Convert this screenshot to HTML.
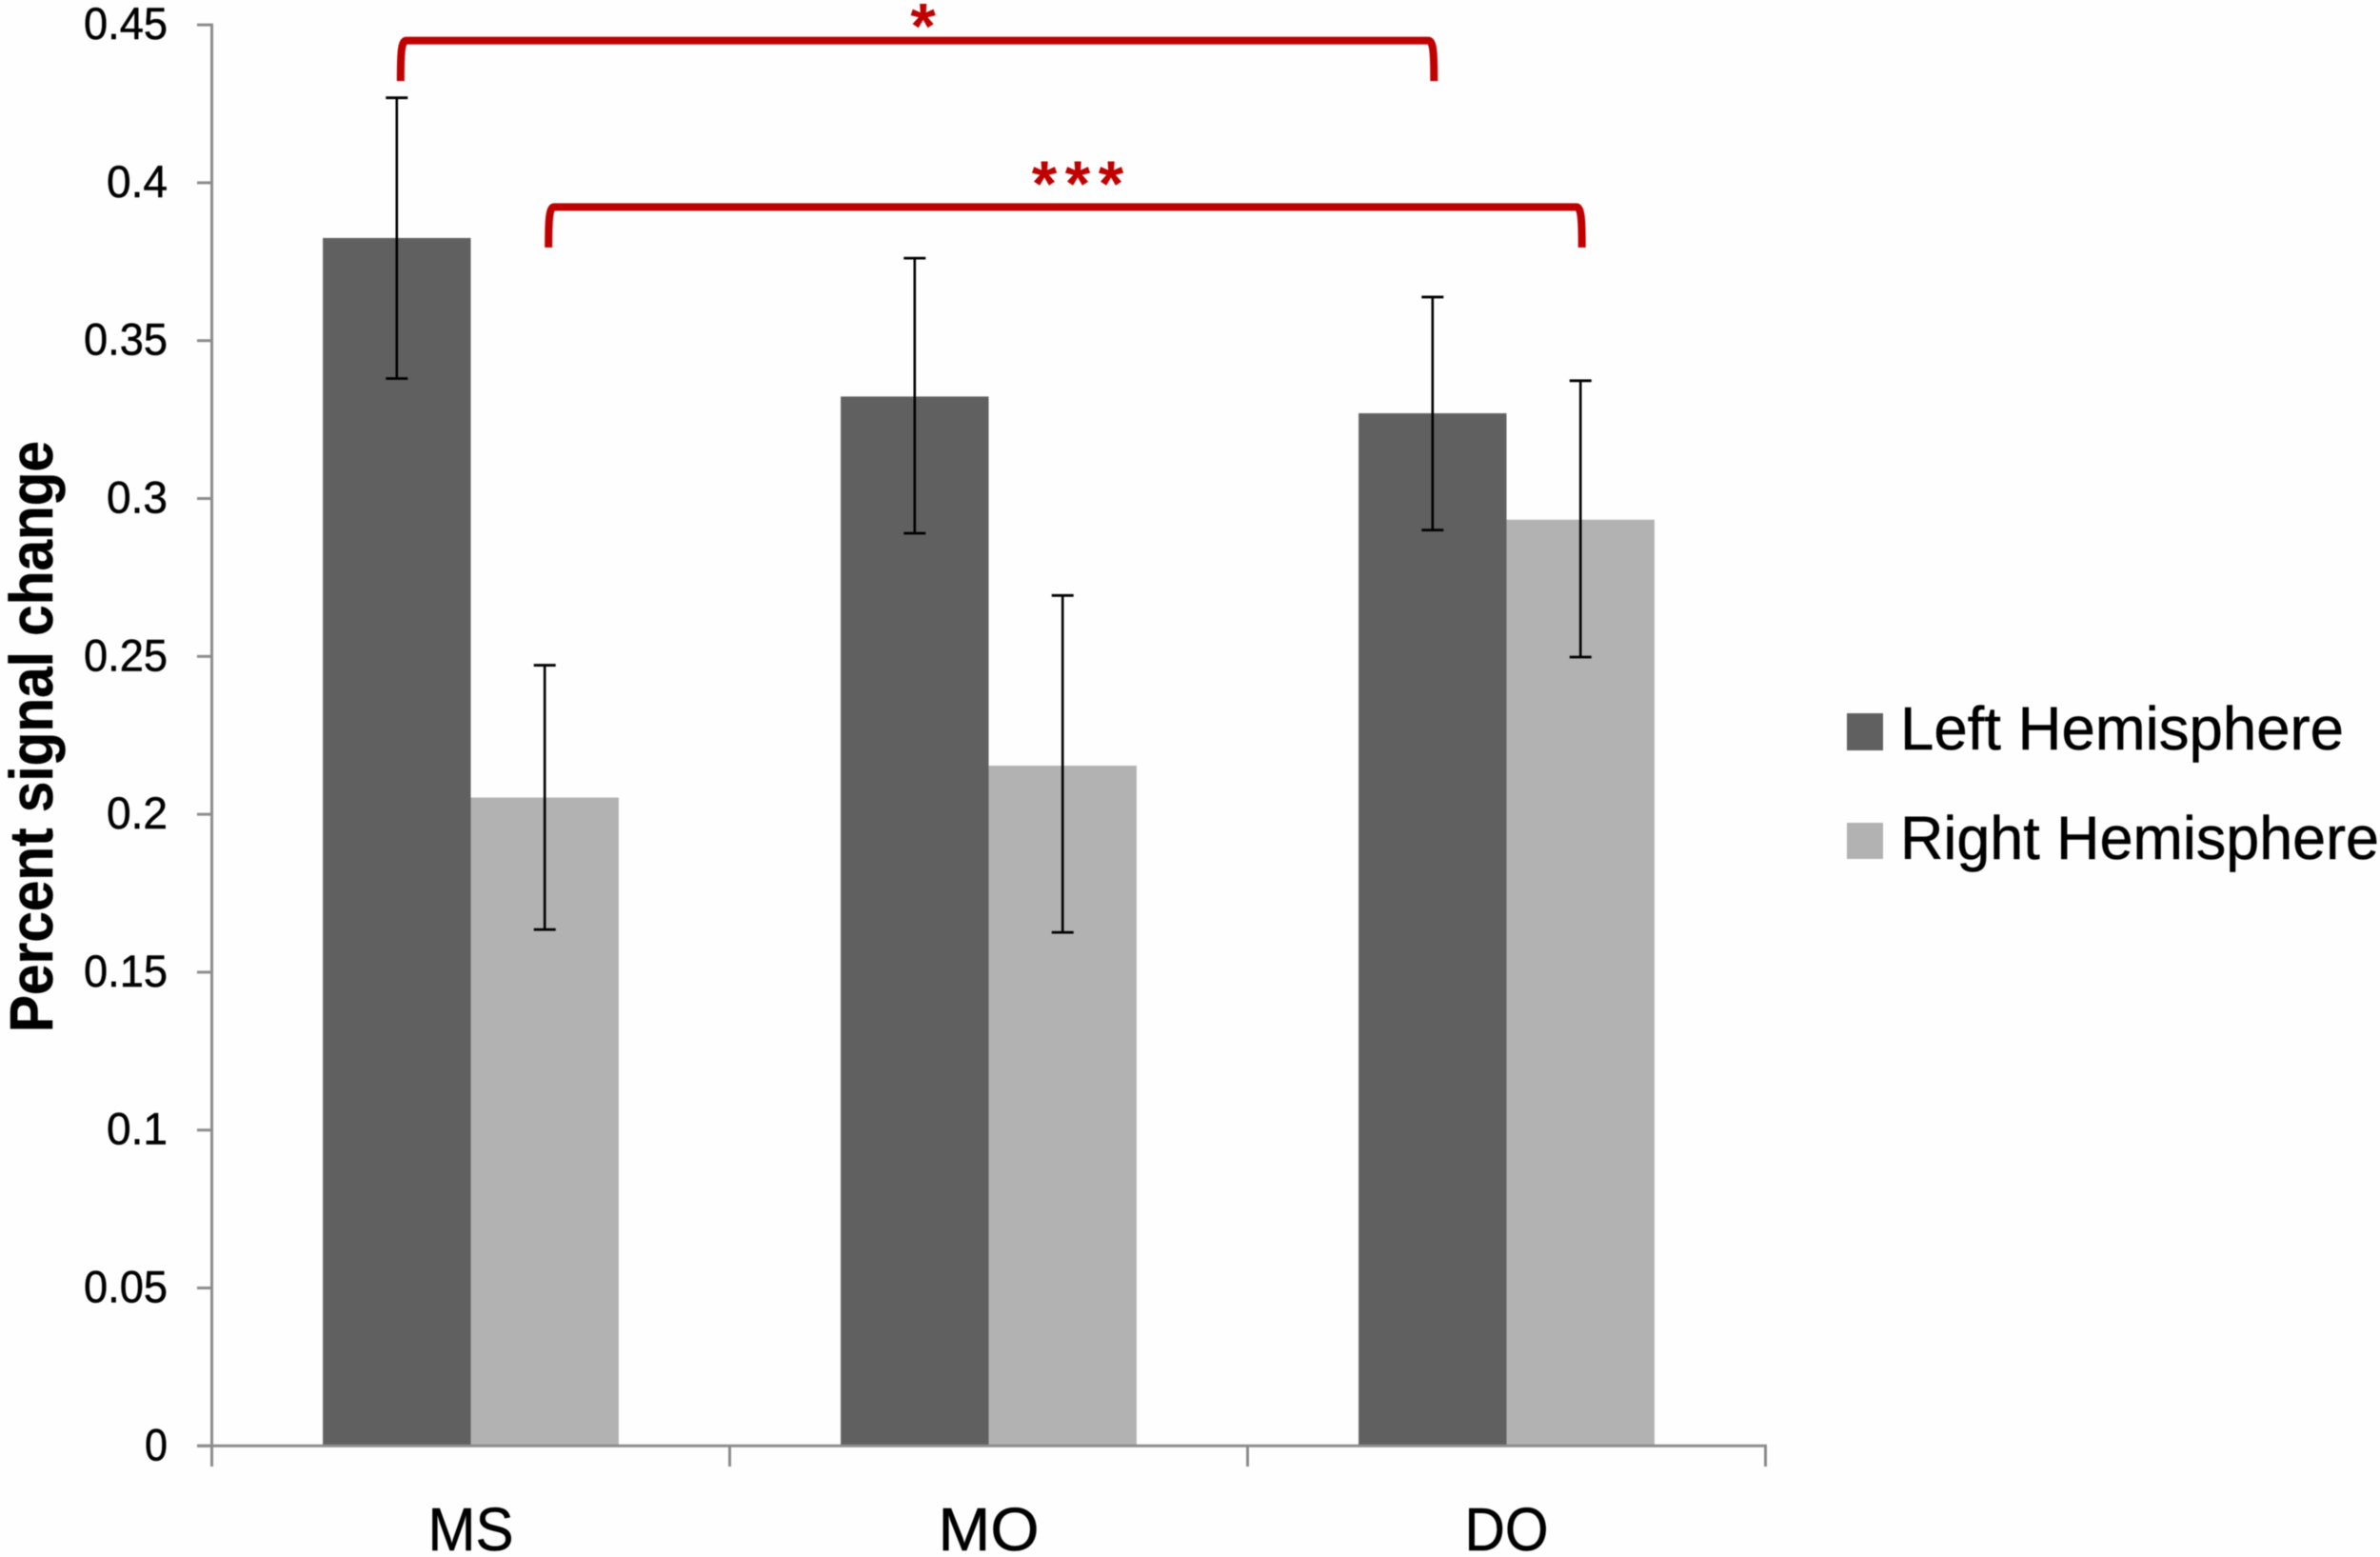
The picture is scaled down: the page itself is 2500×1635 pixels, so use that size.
<!DOCTYPE html>
<html lang="en">
<head>
<meta charset="utf-8">
<title>Percent signal change by region and hemisphere</title>
<style>
  html, body { margin: 0; padding: 0; background: #fefefe; width: 2500px; height: 1635px; overflow: hidden; }
  svg { display: block; filter: blur(0.6px); }
  text { font-family: "Liberation Sans", sans-serif; fill: #000; stroke: #000; stroke-width: 0.5px; }
</style>
</head>
<body>
<svg id="chart" xmlns="http://www.w3.org/2000/svg" width="2500" height="1635" viewBox="0 0 2500 1635">
  <rect x="0" y="0" width="2500" height="1635" fill="#fefefe"/>
  <g id="plot"></g>
  <text transform="translate(55 1084) rotate(-90)" font-size="64" font-weight="700" textLength="621" lengthAdjust="spacingAndGlyphs">Percent signal change</text>
  <g>
    <g>
      <rect x="1940" y="749" width="38" height="39" fill="#606060"/>
      <text x="1996" y="787" font-size="64" textLength="466" lengthAdjust="spacingAndGlyphs">Left Hemisphere</text>
    </g>
    <g>
      <rect x="1940" y="864" width="38" height="38" fill="#b2b2b2"/>
      <text x="1996" y="902" font-size="64" textLength="503" lengthAdjust="spacingAndGlyphs">Right Hemisphere</text>
    </g>
  </g>
</svg>
<script>
const categories = ["MS", "MO", "DO"];
const leftValues = [0.3825, 0.3323, 0.327];
const rightValues = [0.2053, 0.2154, 0.2933];
const leftErrorHigh = [0.4269, 0.3761, 0.3638];
const leftErrorLow = [0.338, 0.289, 0.29];
const rightErrorHigh = [0.2472, 0.2693, 0.3373];
const rightErrorLow = [0.1635, 0.1626, 0.2498];
const yTickLabels = ["0", "0.05", "0.1", "0.15", "0.2", "0.25", "0.3", "0.35", "0.4", "0.45"];
const bracketLevels = [0.445, 0.3923];
const bracketLabels = ["*", "***"];

const NS = "http://www.w3.org/2000/svg";
const plot = document.getElementById("plot");
const axisLeft = 222.5, axisRight = 1854.5, axisBottom = 1518.3, yPerUnit = 3316;
const barWidth = 155.4, groupWidth = (axisRight - axisLeft) / categories.length;
const axisColor = "#8c8c8c", bracketColor = "#c00000";

function yScale(v) { return axisBottom - v * yPerUnit; }
function groupCenter(i) { return axisLeft + groupWidth * (i + 0.5); }
function barLeft(i, seriesIndex) { return groupCenter(i) - barWidth + seriesIndex * barWidth; }
function barCenter(i, seriesIndex) { return barLeft(i, seriesIndex) + barWidth / 2; }

function make(tag, parent) {
  const el = document.createElementNS(NS, tag);
  parent.appendChild(el);
  return el;
}
function setGeom(el, pairs) {
  for (const k in pairs) el.setAttribute(k, pairs[k]);
}

// Bars
[leftValues, rightValues].forEach(function (series, s) {
  series.forEach(function (v, i) {
    const bar = make("rect", plot);
    
    
    setGeom(bar, { x: barLeft(i, s), y: yScale(v), width: barWidth, height: axisBottom - yScale(v), fill: s === 0 ? "#606060" : "#b2b2b2" });
  });
});

// Axes
const yAxis = make("line", plot);


setGeom(yAxis, { x1: axisLeft, x2: axisLeft, y1: yScale(0.45) - 1.5, y2: 1540, stroke: axisColor, "stroke-width": 3 });

const xAxis = make("line", plot);


setGeom(xAxis, { x1: 207, x2: axisRight + 1.5, y1: axisBottom, y2: axisBottom, stroke: axisColor, "stroke-width": 3 });

// Y ticks and labels
yTickLabels.forEach(function (label) {
  const v = parseFloat(label);
  const tick = make("line", plot);
  
  
  setGeom(tick, { x1: 207, x2: axisLeft, y1: yScale(v), y2: yScale(v), stroke: axisColor, "stroke-width": 3 });

  const text = make("text", plot);
  
  
  const dots = label.indexOf(".") >= 0 ? 1 : 0;
  setGeom(text, { x: 176, y: yScale(v) + 15, "font-size": 47, "text-anchor": "end", textLength: (label.length - dots) * 24 + dots * 16, lengthAdjust: "spacingAndGlyphs" });
  text.textContent = label;
});

// X ticks
for (let i = 0; i <= categories.length; i++) {
  const tick = make("line", plot);
  
  
  const x = axisLeft + groupWidth * i;
  setGeom(tick, { x1: x, x2: x, y1: axisBottom, y2: 1540, stroke: axisColor, "stroke-width": 3 });
}

// Category labels
const categoryLabelWidth = { MS: 90, MO: 106, DO: 88 };
categories.forEach(function (c, i) {
  const text = make("text", plot);
  
  
  setGeom(text, { x: groupCenter(i), y: 1628, "font-size": 64, "text-anchor": "middle", textLength: categoryLabelWidth[c] || 90, lengthAdjust: "spacingAndGlyphs" });
  text.textContent = c;
});

// Error bars
function drawError(hiSeries, loSeries, s) {
  hiSeries.forEach(function (hi, i) {
    const lo = loSeries[i];
    const g = make("g", plot);
    
    
    const cx = barCenter(i, s);
    const stem = make("line", g);
    
    
    setGeom(stem, { x1: cx, x2: cx, y1: yScale(hi), y2: yScale(lo), stroke: "#000", "stroke-width": 2.6 });
    [hi, lo].forEach(function (v) {
      const cap = make("line", g);
      
      
      setGeom(cap, { x1: cx - 11.5, x2: cx + 11.5, y1: yScale(v), y2: yScale(v), stroke: "#000", "stroke-width": 2.8 });
    });
  });
}
drawError(leftErrorHigh, leftErrorLow, 0);
drawError(rightErrorHigh, rightErrorLow, 1);

// Significance brackets
const starBaselineOffset = [8, -1.5];
const starCenterOffset = [6, 13];
bracketLevels.forEach(function (level, b) {
  const y = yScale(level);
  const x1 = barCenter(0, b) + 4;
  const x2 = barCenter(2, b) + 1.5;
  const foot = y + 42.5;
  const br = make("path", plot);
  
  
  setGeom(br, {
    d: "M" + x1 + " " + foot + " C" + x1 + " " + (y + 14) + " " + (x1 + 0.5) + " " + y + " " + (x1 + 6) + " " + y +
       " H" + (x2 - 6) + " C" + (x2 - 0.5) + " " + y + " " + x2 + " " + (y + 14) + " " + x2 + " " + foot,
    fill: "none", stroke: bracketColor, "stroke-width": 8
  });
  const star = make("text", plot);
  
  
  const mid = (x1 + x2) / 2 + starCenterOffset[b];
  const label = bracketLabels[b];
  const xs = Array.from(label).map(function (_, k) { return mid + (k - (label.length - 1) / 2) * 35; });
  setGeom(star, { x: xs.join(" "), y: y + starBaselineOffset[b], "font-size": 68, "font-weight": 700, "text-anchor": "middle" });
  star.style.fill = bracketColor;
  star.style.stroke = "none";
  star.textContent = label;
});
</script>
</body>
</html>
